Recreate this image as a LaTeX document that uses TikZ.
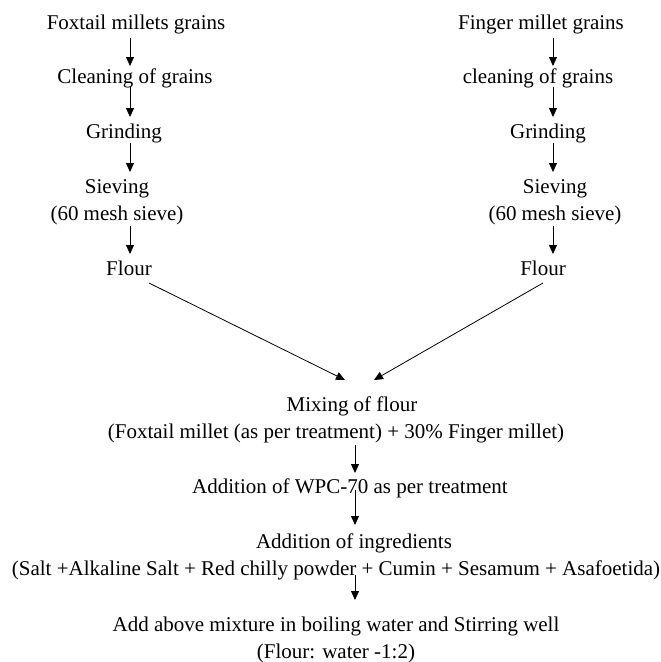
\documentclass[tikz,border=0pt]{standalone}
\usepackage{fontspec}
\setmainfont{Liberation Serif}
\usetikzlibrary{arrows.meta}
\begin{document}
\begin{tikzpicture}[x=1pt,y=-1pt,
  txt/.style={inner sep=0pt,anchor=base,align=center,font=\fontsize{21pt}{27pt}\selectfont},
  arr/.style={line width=0.8pt,-{Triangle[length=9pt,width=8pt]}}]
\useasboundingbox (0,0) rectangle (661,662);
\coordinate (lx) at (130,0);
\coordinate (rx) at (553,0);
\coordinate (mx) at (355,0);
% left column
\node[txt] (f1) at (136,29) {Foxtail millets grains};
\node[txt] (f2) at (135,83) {Cleaning of grains};
\node[txt] (f3) at (124,138) {Grinding};
\node[txt] (f4) at (117,220) {Sieving\\(60 mesh sieve)};
\node[txt] (f5) at (129,275) {Flour};
% right column
\node[txt] (g1) at (541,29) {Finger millet grains};
\node[txt] (g2) at (538,83) {cleaning of grains};
\node[txt] (g3) at (548,138) {Grinding};
\node[txt] (g4) at (555,220) {Sieving\\(60 mesh sieve)};
\node[txt] (g5) at (543,275) {Flour};
% bottom
\node[txt] (m) at (336,438) {\hspace*{32pt}Mixing of flour\\(Foxtail millet (as per treatment) + 30\% Finger millet)};
\node[txt] (w) at (350,493) {Addition of WPC-70 as per treatment};
\node[txt] (i) at (336,575) {\hspace*{36pt}Addition of ingredients\\(Salt +Alkaline Salt + Red chilly powder + Cumin + Sesamum + Asafoetida)};
\node[txt] (a) at (336,658) {Add above mixture in boiling water and Stirring well\\(Flour: water -1:2)};
% arrows left
\draw[arr] ([yshift=-9pt]f1.base -| lx) -- ([yshift=17pt]f2.base -| lx);
\draw[arr] ([yshift=-4pt]f2.base -| lx) -- ([yshift=21pt]f3.base -| lx);
\draw[arr] ([yshift=-5pt]f3.base -| lx) -- ([yshift=48pt]f4.base -| lx);
\draw[arr] ([yshift=-6pt]f4.base -| lx) -- ([yshift=21pt]f5.base -| lx);
% arrows right
\draw[arr] ([yshift=-9pt]g1.base -| rx) -- ([yshift=17pt]g2.base -| rx);
\draw[arr] ([yshift=-4pt]g2.base -| rx) -- ([yshift=21pt]g3.base -| rx);
\draw[arr] ([yshift=-5pt]g3.base -| rx) -- ([yshift=48pt]g4.base -| rx);
\draw[arr] ([yshift=-6pt]g4.base -| rx) -- ([yshift=21pt]g5.base -| rx);
% diagonal
\draw[arr] ([xshift=20pt,yshift=-8pt]f5.base) -- ([xshift=9pt,yshift=58pt]m.base);
\draw[arr] ([yshift=-8pt]g5.base) -- ([xshift=38pt,yshift=58pt]m.base);
% bottom arrows
\draw[arr] ([yshift=-7pt]m.base -| mx) -- ([yshift=20pt]w.base -| mx);
\draw[arr] ([yshift=3pt]w.base -| mx) -- ([yshift=50pt]i.base -| mx);
\draw[arr] ([yshift=0pt]i.base -| mx) -- ([yshift=58pt]a.base -| mx);
\end{tikzpicture}
\end{document}
